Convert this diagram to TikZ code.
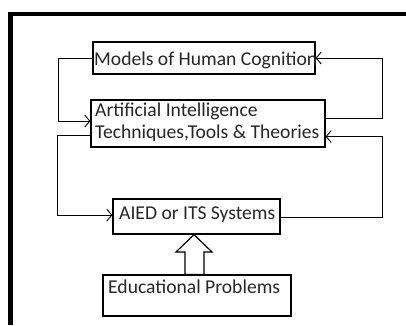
\documentclass[tikz,border=0pt]{standalone}
\usepackage{fontspec}
\setmainfont{Carlito}
\usetikzlibrary{arrows.meta,calc}
\begin{document}
\begin{tikzpicture}[x=1pt,y=-1pt,
  box/.style={draw=black, line width=1.3pt, rectangle, inner sep=0pt},
  txt/.style={font=\fontsize{19.6}{23}\selectfont, inner sep=0pt, text=black!85},
  conn/.style={draw=black, line width=1pt},
  arr/.style={conn, -{Straight Barb[length=5pt,width=12pt,line width=0.9pt]}}]
\useasboundingbox (0,0) rectangle (406,325);
\fill[black] (8,12) rectangle (406,16);
\fill[black] (8,12) rectangle (13,325);
% boxes
\node[box, minimum width=222, minimum height=32] (models) at (204,58) {};
\node[box, minimum width=234, minimum height=47] (ai) at (208,123.5) {};
\node[box, minimum width=167, minimum height=35] (aied) at (196.5,216.5) {};
\node[box, minimum width=188, minimum height=41] (edu) at (197,295.5) {};
% texts
\node[txt, anchor=base west] (t1) at (94,65) {Models of Human Cognition};
\node[txt, anchor=base west] (t2) at (95,116) {Artificial Intelligence};
\node[txt, anchor=base west] (t3) at (95,138) {Techniques,Tools \& Theories};
\node[txt, anchor=base west] (t4) at (119,219) {AIED or ITS Systems};
\node[txt, anchor=base west] (t5) at (108,293) {Educational Problems};
% connectors
\coordinate (aiL1) at ($(ai.north west)!0.45!(ai.south west)$);
\coordinate (aiL2) at ($(ai.north west)!0.74!(ai.south west)$);
\coordinate (aiR1) at ($(ai.north east)!0.40!(ai.south east)$);
\coordinate (aiR2) at ($(ai.north east)!0.77!(ai.south east)$);
\coordinate (aiedL) at ($(aied.north west)!0.46!(aied.south west)$);
\coordinate (aiedR) at ($(aied.north east)!0.54!(aied.south east)$);
\draw[arr] (models.west) -- (58,0 |- models.west) |- (aiL1);
\draw[arr] (aiR1) -- (382,0 |- aiR1) |- (models.east);
\draw[arr] (aiL2) -- (57,0 |- aiL2) |- (aiedL);
\draw[arr] (aiedR) -- (382,0 |- aiedR) |- (aiR2);
% hollow arrow
\draw[box, line width=1.2pt, fill=white] (194,0 |- aied.south) -- (212,252) -- (204,252) -- (204,0 |- edu.north) -- (185,0 |- edu.north) -- (185,252) -- (176,252) -- cycle;
\end{tikzpicture}
\end{document}
